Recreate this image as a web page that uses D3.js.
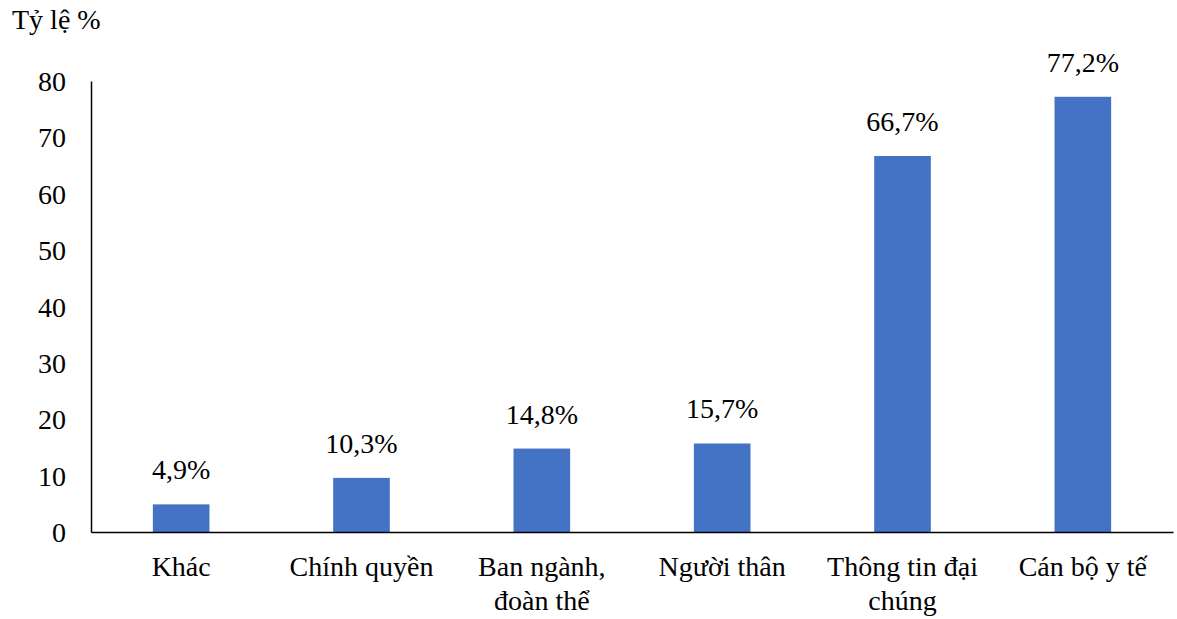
<!DOCTYPE html>
<html>
<head>
<meta charset="utf-8">
<script src="https://cdn.jsdelivr.net/npm/d3@7"></script>
<style>
  body { margin: 0; background: #fff; }
  svg text { font-family: "Liberation Serif", "Tinos", "Times New Roman", "DejaVu Serif", serif; fill: #000; }
</style>
</head>
<body>
<svg width="1177" height="619"></svg>
<script>
// categories, each label can span two lines
var categories = [
    ["Khác"],
    ["Chính quyền"],
    ["Ban ngành,", "đoàn thể"],
    ["Người thân"],
    ["Thông tin đại", "chúng"],
    ["Cán bộ y tế"]
];
// bar heights as drawn, and the printed labels
var barValues = [4.9, 9.6, 14.8, 15.7, 66.7, 77.2];
var valueLabels = ["4,9%", "10,3%", "14,8%", "15,7%", "66,7%", "77,2%"];
var yTicks = [0, 10, 20, 30, 40, 50, 60, 70, 80];

var svg = d3.select("svg"),
    plotLeft = 91, plotRight = 1173, plotTop = 81, plotBottom = 532,
    fontSize = 28,
    serif = "'Liberation Serif', Tinos, 'Times New Roman', 'DejaVu Serif', serif";

var x = d3.scaleBand()
    .domain(d3.range(categories.length))
    .range([plotLeft, plotRight])
    .paddingInner(0.686)
    .paddingOuter(0.343);

var y = d3.scaleLinear()
    .domain([0, 80])
    .range([plotBottom, plotTop]);

// bars
svg.selectAll("rect.bar")
    .data(barValues)
    .enter().append("rect")
    .attr("class", "bar")
    .attr("x", function(d, i) { return x(i); })
    .attr("y", function(d) { return y(d); })
    .attr("width", x.bandwidth())
    .attr("height", function(d) { return y(0) - y(d); })
    .style("fill", "#4472C4");

// value labels
svg.selectAll("text.val")
    .data(barValues)
    .enter().append("text")
    .attr("class", "val")
    .attr("x", function(d, i) { return x(i) + x.bandwidth() / 2; })
    .attr("y", function(d) { return y(d) - 25; })
    .attr("text-anchor", "middle")
    .style("font-family", serif)
    .style("font-size", fontSize + "px")
    .text(function(d, i) { return valueLabels[i]; });

// y axis
var yAxis = d3.axisLeft(y).tickValues(yTicks).tickSize(0).tickPadding(25);
var gy = svg.append("g").attr("transform", "translate(" + plotLeft + ",0)").call(yAxis);
gy.attr("font-family", null);
gy.select(".domain").attr("stroke", "#000").attr("stroke-width", 1.5);
gy.selectAll("text")
    .style("font-size", fontSize + "px")
    .style("font-family", serif)
    .attr("dy", "0.34em");

// x axis
var xAxis = d3.axisBottom(x).tickSize(0).tickFormat("");
var gx = svg.append("g").attr("transform", "translate(0," + plotBottom + ")").call(xAxis);
gx.select(".domain").attr("stroke", "#000").attr("stroke-width", 1.5);

// category labels
var cat = svg.selectAll("text.cat")
    .data(categories)
    .enter().append("text")
    .attr("class", "cat")
    .attr("text-anchor", "middle")
    .style("font-family", serif)
    .style("font-size", fontSize + "px");
cat.selectAll("tspan")
    .data(function(d, i) { return d.map(function(t) { return { t: t, i: i }; }); })
    .enter().append("tspan")
    .attr("x", function(d) { return x(d.i) + x.bandwidth() / 2; })
    .attr("y", function(d, j) { return 576 + j * 34; })
    .text(function(d) { return d.t; });

// axis title
svg.append("text")
    .attr("x", 12)
    .attr("y", 29)
    .style("font-family", serif)
    .style("font-size", fontSize + "px")
    .text("Tỷ lệ %");
</script>
</body>
</html>
